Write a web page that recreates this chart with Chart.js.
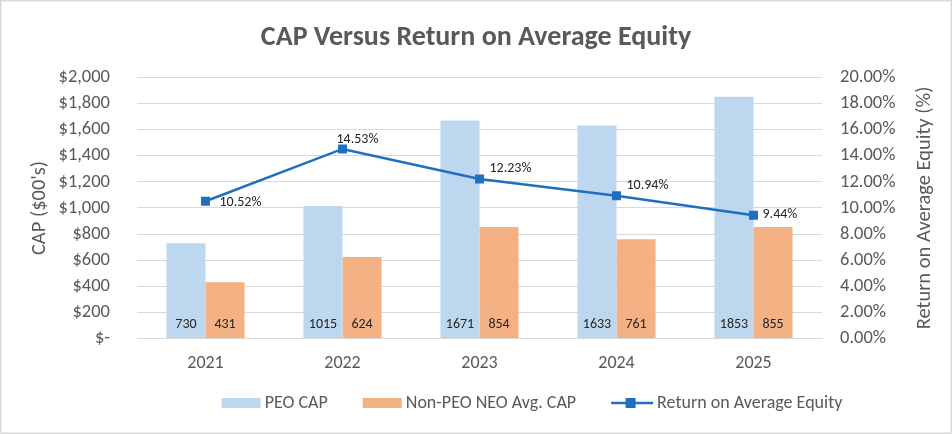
<!DOCTYPE html>
<html><head><meta charset="utf-8">
<script src="https://cdn.jsdelivr.net/npm/chart.js@4.4.1/dist/chart.umd.min.js"></script>
<style>html,body{margin:0;padding:0;background:#fff;}#wrap{width:952px;height:434px;}</style>
</head><body><div id="wrap"><canvas id="c" width="952" height="434"></canvas></div>
<script>
const years = ['2021','2022','2023','2024','2025'];
const peoCap = [730, 1015, 1671, 1633, 1853];
const neoCap = [431, 624, 854, 761, 855];
const roae = [10.52, 14.53, 12.23, 10.94, 9.44];
const roaeLabelPlacement = ['right-below','above','right-above','right-above','right'];
const leftTicks = [0,200,400,600,800,1000,1200,1400,1600,1800,2000];
const leftTitle = "CAP ($00's)";
const rightTitle = 'Return on Average Equity (%)';
const chartTitle = 'CAP Versus Return on Average Equity';

const FONT = 'Carlito, Calibri, Lato, sans-serif';
const TXT = '#595959';
const BLUE_BAR = '#BDD7EE';
const ORANGE_BAR = '#F4B183';
const LINE = '#1F6FC0';

const drawPlugin = {
  id:'drawExtras',
  afterDatasetsDraw(chart){
    const ctx=chart.ctx;ctx.save();
    [0,1].forEach(di=>{
      const meta=chart.getDatasetMeta(di);
      const data=chart.data.datasets[di].data;
      meta.data.forEach((el,i)=>{
        ctx.font='14px '+FONT;ctx.fillStyle='#262626';
        ctx.textAlign='center';ctx.textBaseline='middle';
        ctx.fillText(String(data[i]), el.x, el.base-13.5);
      });
    });
    const lm=chart.getDatasetMeta(2);
    lm.data.forEach((el,i)=>{
      const t=roae[i].toFixed(2)+'%';
      ctx.font='14px '+FONT;ctx.fillStyle='#262626';ctx.textBaseline='middle';ctx.textAlign='left';
      const p=roaeLabelPlacement[i];
      if(p==='above'){ctx.fillText(t,el.x-6,el.y-9);}
      else if(p==='right-below'){ctx.fillText(t,el.x+14,el.y+1.5);}
      else if(p==='right-above'){ctx.fillText(t,el.x+10,el.y-10);}
      else {ctx.fillText(t,el.x+9,el.y-1);}
    });
    ctx.restore();
  },
  afterDraw(chart){
    const ctx=chart.ctx, a=chart.chartArea;ctx.save();
    ctx.fillStyle=TXT;ctx.font='20.5px '+FONT;ctx.textAlign='center';ctx.textBaseline='middle';
    const cy=(a.top+a.bottom)/2;
    ctx.save();ctx.translate(40,cy);ctx.rotate(-Math.PI/2);ctx.fillText(leftTitle,0,0);ctx.restore();
    ctx.save();ctx.translate(925,cy);ctx.rotate(-Math.PI/2);ctx.fillText(rightTitle,0,0);ctx.restore();
    const ds=chart.data.datasets;
    ctx.font='18px '+FONT;
    const boxW=39, gap=4, itemGap=35, ly=403;
    const widths=ds.map(d=>boxW+gap+ctx.measureText(d.label).width);
    const total=widths.reduce((s,w)=>s+w,0)+itemGap*(ds.length-1);
    let x=530.5-total/2;
    ds.forEach((d,i)=>{
      if(i<2){ctx.fillStyle=d.backgroundColor;ctx.fillRect(x,ly-5,boxW,10);}
      else{
        ctx.strokeStyle=LINE;ctx.lineWidth=2.5;ctx.beginPath();ctx.moveTo(x,ly);ctx.lineTo(x+boxW+3,ly);ctx.stroke();
        ctx.fillStyle=LINE;ctx.fillRect(x+boxW/2-5,ly-5,10,10);
      }
      ctx.fillStyle=TXT;ctx.textAlign='left';ctx.textBaseline='middle';
      ctx.fillText(d.label,x+boxW+gap+(i===2?3:0),ly);
      x+=widths[i]+itemGap;
    });
    ctx.strokeStyle='#D9D9D9';ctx.lineWidth=1.5;
    ctx.strokeRect(0.75,0.75,chart.width-1.5,chart.height-1.5);ctx.restore();
  }
};

new Chart(document.getElementById('c'),{
  type:'bar',
  data:{labels:years,datasets:[
    {label:'PEO CAP',data:peoCap,backgroundColor:BLUE_BAR,yAxisID:'y',order:2,categoryPercentage:0.57,barPercentage:1},
    {label:'Non-PEO NEO Avg. CAP',data:neoCap,backgroundColor:ORANGE_BAR,yAxisID:'y',order:2,categoryPercentage:0.57,barPercentage:1},
    {type:'line',label:'Return on Average Equity',data:roae,yAxisID:'y1',borderColor:LINE,backgroundColor:LINE,borderWidth:2.5,pointStyle:'rect',pointRadius:6.3,pointHoverRadius:6.3,pointBackgroundColor:LINE,pointBorderWidth:0,order:1,tension:0}
  ]},
  options:{
    responsive:false,animation:false,
    layout:{padding:{left:0,right:0,top:0,bottom:54}},
    plugins:{
      title:{display:true,text:chartTitle,color:TXT,font:{family:FONT,size:28,weight:'bold'},padding:{top:21,bottom:23}},
      legend:{display:false},
      tooltip:{enabled:false}
    },
    scales:{
      x:{grid:{display:false},border:{color:'#D9D9D9'},ticks:{color:TXT,font:{family:FONT,size:18},padding:6}},
      y:{position:'left',min:0,max:2000,afterBuildTicks(s){s.ticks=leftTicks.map(v=>({value:v}));},
        ticks:{color:TXT,font:{family:FONT,size:18.5},padding:27,callback:v=>v===0?'$-':'$'+v.toLocaleString('en-US')},
        grid:{color:'#D9D9D9',drawTicks:false},border:{display:false},
        afterFit(s){s.width=137;}},
      y1:{position:'right',min:0,max:20,ticks:{stepSize:2,color:TXT,font:{family:FONT,size:18.5},padding:18,callback:v=>v.toFixed(2)+'%'},
        grid:{display:false,drawTicks:false},border:{display:false},
        afterFit(s){s.width=130;}}
    }
  },
  plugins:[drawPlugin]
});
</script></body></html>
